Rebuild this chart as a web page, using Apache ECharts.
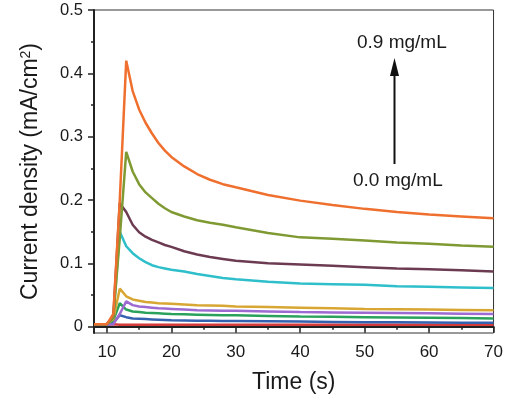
<!DOCTYPE html>
<html>
<head>
<meta charset="utf-8">
<script src="https://cdn.jsdelivr.net/npm/echarts@6/dist/echarts.min.js"></script>
<style>
  html, body { margin: 0; padding: 0; background: #fff; }
  #chart { width: 506px; height: 399px; }
</style>
</head>
<body>
<div id="chart"></div>
<script>
var times = [8, 9, 10, 11, 12, 13, 14, 15, 16, 17, 18, 19, 20, 22, 24, 26, 28, 30, 35, 40, 45, 50, 55, 60, 65, 70];

var red    = [0.003, 0.003, 0.003, 0.004, 0.003, 0.003, 0.003, 0.003, 0.003, 0.003, 0.003, 0.003, 0.003, 0.003, 0.003, 0.003, 0.003, 0.003, 0.003, 0.003, 0.003, 0.003, 0.003, 0.003, 0.003, 0.003];
var blue   = [0.003, 0.003, 0.003, 0.006, 0.018, 0.015, 0.013, 0.0125, 0.012, 0.0115, 0.011, 0.0105, 0.01, 0.0098, 0.0095, 0.0093, 0.0091, 0.009, 0.0085, 0.008, 0.0075, 0.007, 0.0068, 0.0065, 0.0062, 0.006];
var green  = [0.003, 0.003, 0.003, 0.01, 0.037, 0.027, 0.024, 0.023, 0.022, 0.0215, 0.021, 0.0205, 0.02, 0.0195, 0.019, 0.0185, 0.018, 0.018, 0.017, 0.016, 0.0155, 0.015, 0.0145, 0.014, 0.0135, 0.013];
var purple = [0.003, 0.003, 0.003, 0.004, 0.02, 0.04, 0.034, 0.032, 0.031, 0.03, 0.029, 0.0285, 0.028, 0.027, 0.026, 0.0255, 0.025, 0.025, 0.024, 0.023, 0.0225, 0.022, 0.0215, 0.021, 0.0205, 0.02];
var gold   = [0.004, 0.004, 0.004, 0.012, 0.06, 0.048, 0.043, 0.041, 0.039, 0.038, 0.037, 0.0365, 0.036, 0.035, 0.034, 0.0335, 0.033, 0.032, 0.031, 0.03, 0.029, 0.028, 0.0275, 0.027, 0.0265, 0.026];
var cyan   = [0.004, 0.004, 0.004, 0.015, 0.15, 0.127, 0.116, 0.108, 0.102, 0.097, 0.094, 0.092, 0.09, 0.087, 0.083, 0.08, 0.077, 0.075, 0.071, 0.068, 0.067, 0.066, 0.064, 0.063, 0.062, 0.061];
var maroon = [0.004, 0.004, 0.004, 0.015, 0.195, 0.181, 0.161, 0.149, 0.142, 0.137, 0.133, 0.129, 0.126, 0.119, 0.114, 0.11, 0.107, 0.104, 0.1, 0.098, 0.096, 0.094, 0.092, 0.0905, 0.089, 0.087];
var olive  = [0.004, 0.004, 0.004, 0.015, 0.14, 0.276, 0.245, 0.225, 0.212, 0.203, 0.194, 0.187, 0.181, 0.174, 0.168, 0.164, 0.161, 0.157, 0.148, 0.141, 0.139, 0.136, 0.133, 0.131, 0.128, 0.126];
var orange = [0.004, 0.004, 0.004, 0.02, 0.2, 0.42, 0.372, 0.343, 0.322, 0.305, 0.29, 0.278, 0.268, 0.253, 0.241, 0.232, 0.225, 0.22, 0.208, 0.199, 0.192, 0.186, 0.181, 0.177, 0.174, 0.171];

var xTicks = [10, 20, 30, 40, 50, 60, 70];
var xMinor = [15, 25, 35, 45, 55, 65];
var yTicks = [0, 0.1, 0.2, 0.3, 0.4, 0.5];
var yMinor = [0.05, 0.15, 0.25, 0.35, 0.45];

var lines = [
  ['0.0', red, '#d63b3b'],
  ['0.1', blue, '#3462b0'],
  ['0.2', green, '#2ba25c'],
  ['0.3', purple, '#9c6ad0'],
  ['0.4', gold, '#d8a632'],
  ['0.5', cyan, '#2ebfcb'],
  ['0.6', maroon, '#6c3b52'],
  ['0.7', olive, '#7f9a33'],
  ['0.9', orange, '#ef6f2e']
];

var font = 'Liberation Sans, Arial, sans-serif';
var ink = '#1a1a1a';

var dom = document.getElementById('chart');
var myChart = echarts.init(dom);

var option = {
  animation: false,
  grid: { left: 94, top: 10, right: 10, bottom: 66, show: true, borderColor: '#333', borderWidth: 1, backgroundColor: 'transparent' },
  xAxis: [{
    type: 'value', min: 8, max: 70,
    name: 'Time (s)', nameLocation: 'middle', nameGap: 38,
    nameTextStyle: { fontFamily: font, fontSize: 23, color: ink },
    axisLine: { lineStyle: { color: '#222', width: 2 } },
    axisTick: { customValues: xTicks, length: 6, lineStyle: { color: '#222', width: 1.5 } },
    axisLabel: { customValues: xTicks, margin: 11, fontFamily: font, fontSize: 17, color: ink },
    splitLine: { show: false }
  }, {
    type: 'value', min: 8, max: 70, position: 'bottom',
    axisLine: { show: false },
    axisTick: { customValues: xMinor, length: 3, lineStyle: { color: '#222', width: 1.5 } },
    axisLabel: { show: false },
    splitLine: { show: false }
  }],
  yAxis: [{
    type: 'value', min: -0.01, max: 0.5,
    name: 'Current density (mA/cm{sup|2})', nameLocation: 'middle', nameGap: 52,
    nameTextStyle: {
      fontFamily: font, fontSize: 23, color: ink,
      rich: { sup: { fontFamily: font, fontSize: 14, color: ink, verticalAlign: 'top', padding: [0, 0, 9, 0] } }
    },
    axisLine: { lineStyle: { color: '#222', width: 2 } },
    axisTick: { customValues: yTicks, length: 6, lineStyle: { color: '#222', width: 1.5 } },
    axisLabel: { customValues: yTicks, margin: 11, fontFamily: font, fontSize: 16.5, color: ink },
    splitLine: { show: false }
  }, {
    type: 'value', min: -0.01, max: 0.5, position: 'left',
    axisLine: { show: false },
    axisTick: { customValues: yMinor, length: 3, lineStyle: { color: '#222', width: 1.5 } },
    axisLabel: { show: false },
    splitLine: { show: false }
  }],
  series: lines.map(function (l) {
    return {
      name: l[0] + ' mg/mL',
      type: 'line',
      data: times.map(function (t, i) { return [t, l[1][i]]; }),
      showSymbol: false,
      symbol: 'none',
      lineStyle: { color: l[2], width: 2.5 },
      itemStyle: { color: l[2] }
    };
  }),
  graphic: [
    { type: 'text', left: 357, top: 33, style: { text: '0.9 mg/mL', font: '19px ' + font, fill: ink } },
    { type: 'text', left: 353, top: 171, style: { text: '0.0 mg/mL', font: '19px ' + font, fill: ink } },
    { type: 'line', shape: { x1: 394.5, y1: 164, x2: 394.5, y2: 72 }, style: { stroke: '#111', lineWidth: 2 } },
    { type: 'polygon', shape: { points: [[394.5, 58], [390, 76], [399, 76]] }, style: { fill: '#111' } }
  ]
};

myChart.setOption(option);
</script>
</body>
</html>
